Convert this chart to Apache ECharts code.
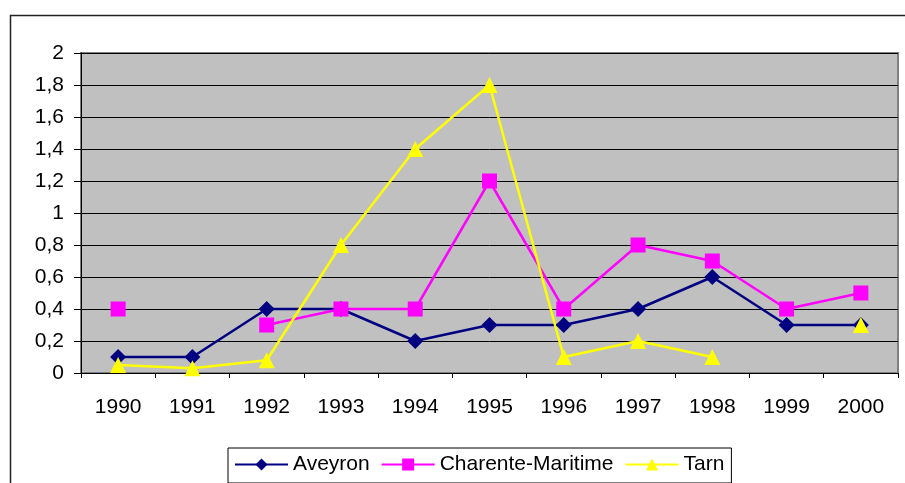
<!DOCTYPE html>
<html>
<head>
<meta charset="utf-8">
<script src="https://cdn.jsdelivr.net/npm/echarts@6/dist/echarts.min.js"></script>
<style>html,body{margin:0;padding:0;background:#fff}#c{width:905px;height:483px}</style>
</head>
<body>
<div id="c"></div>
<script>
var years = ['1990','1991','1992','1993','1994','1995','1996','1997','1998','1999','2000'];
var aveyron = [0.1, 0.1, 0.4, 0.4, 0.2, 0.3, 0.3, 0.4, 0.6, 0.3, 0.3];
var charente = [0.4, null, 0.3, 0.4, 0.4, 1.2, 0.4, 0.8, 0.7, 0.4, 0.5];
var tarn = [0.05, 0.03, 0.08, 0.8, 1.4, 1.8, 0.1, 0.2, 0.1, null, 0.3];

var FONT = 'Liberation Sans, Arial, sans-serif';
var chart = echarts.init(document.getElementById('c'));
chart.setOption({
  backgroundColor: '#fff',
  animation: false,
  graphic: [{
    type: 'rect', left: 8, top: 13, z: -1,
    shape: {width: 910, height: 480},
    style: {fill: 'none', stroke: '#222', lineWidth: 1.5}
  }],
  grid: {
    left: 81, top: 53, right: 7, bottom: 110,
    show: true, backgroundColor: '#C0C0C0', borderColor: '#808080', borderWidth: 2
  },
  legend: {
    left: 228, top: 448,
    padding: [6, 7, 8, 6],
    borderColor: '#000', borderWidth: 1, backgroundColor: '#fff',
    itemWidth: 53, itemHeight: 15, itemGap: 11,
    textStyle: {fontFamily: FONT, fontSize: 21, color: '#000'},
    data: ['Aveyron', 'Charente-Maritime', 'Tarn']
  },
  xAxis: {
    type: 'category', data: years, boundaryGap: true,
    axisLine: {lineStyle: {color: '#000', width: 1}},
    axisTick: {show: true, length: 5, lineStyle: {color: '#000'}},
    axisLabel: {fontFamily: FONT, fontSize: 21, color: '#000', margin: 24}
  },
  yAxis: {
    type: 'value', min: 0, max: 2, interval: 0.2,
    axisLine: {show: true, lineStyle: {color: '#000', width: 1}},
    axisTick: {show: true, length: 7, lineStyle: {color: '#000'}},
    splitLine: {lineStyle: {color: '#000', width: 1}},
    axisLabel: {fontFamily: FONT, fontSize: 21, color: '#000', margin: 17,
      formatter: function (v) { return String(Math.round(v * 10) / 10).replace('.', ','); }}
  },
  series: [
    {name: 'Aveyron', type: 'line', data: aveyron, symbol: 'diamond', symbolSize: 16,
      lineStyle: {color: '#000080', width: 2.5}, itemStyle: {color: '#000080'}},
    {name: 'Charente-Maritime', type: 'line', data: charente, symbol: 'rect', symbolSize: 15,
      lineStyle: {color: '#FF00FF', width: 2.5}, itemStyle: {color: '#FF00FF'}},
    {name: 'Tarn', type: 'line', data: tarn, symbol: 'triangle', symbolSize: 16,
      lineStyle: {color: '#FFFF00', width: 2.5}, itemStyle: {color: '#FFFF00'}}
  ]
});
</script>
</body>
</html>
